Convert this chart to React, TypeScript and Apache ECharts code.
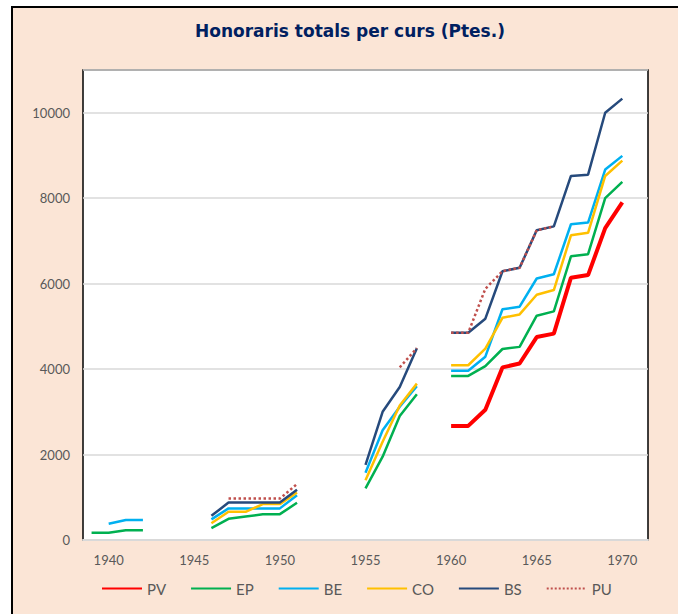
import React, { useEffect, useRef } from "react";
import * as echarts from "echarts";

const years: string[] = [];
for (let y = 1939; y <= 1971; y++) years.push(String(y));

const N = null;
// 1939..1971
const PV = [N, N, N, N, N, N, N, N, N, N, N, N, N, N, N, N, N, N, N, N, N,
  2670, 2670, 3050, 4040, 4130, 4750, 4830, 6140, 6200, 7300, 7900, N];
const EP = [170, 170, 230, 230, N, N, N, 280, 495, 550, 600, 605, 870, N, N, N,
  1210, 1950, 2900, 3410, N,
  3840, 3840, 4070, 4470, 4520, 5250, 5350, 6640, 6690, 8000, 8380, N];
const BE = [N, 380, 470, 470, N, N, N, 483, 740, 740, 740, 740, 1050, N, N, N,
  1575, 2570, 3120, 3600, N,
  3960, 3960, 4290, 5400, 5460, 6120, 6220, 7390, 7430, 8670, 8990, N];
const CO = [N, N, N, N, N, N, N, 390, 660, 660, 840, 840, 1110, N, N, N,
  1400, 2300, 3150, 3660, N,
  4090, 4090, 4480, 5200, 5280, 5740, 5850, 7130, 7190, 8520, 8880, N];
const BS = [N, N, N, N, N, N, N, 565, 875, 875, 875, 875, 1175, N, N, N,
  1760, 3000, 3580, 4490, N,
  4850, 4850, 5180, 6290, 6370, 7250, 7340, 8520, 8550, 10000, 10330, N];
const PU = [N, N, N, N, N, N, N, N, 970, 970, 970, 970, 1310, N, N, N,
  N, N, 4040, 4490, N,
  4850, 4850, 5880, 6290, 6370, 7250, 7340, N, N, N, N, N];

const seriesNames = ["PV", "EP", "BE", "CO", "BS", "PU"];
const seriesData = [PV, EP, BE, CO, BS, PU];
const colors = ["#FF0000", "#00B050", "#00B0F0", "#FFC000", "#264A7C", "#C0504D"];
const widths = [4, 2.5, 2.5, 2.5, 2.5, 2.5];

export default function App() {
  const ref = useRef<HTMLDivElement>(null);
  useEffect(() => {
    if (!ref.current) return;
    const chart = echarts.init(ref.current, undefined, { renderer: "svg" });
    chart.setOption({
      animation: false,
      backgroundColor: "#ffffff",
      graphic: [
        {
          type: "rect",
          z: -100,
          silent: true,
          shape: { x: 12, y: 7, width: 720, height: 660 },
          style: { fill: "#FBE5D6", stroke: "#000000", lineWidth: 2 },
        },
      ],
      title: {
        text: "Honoraris totals per curs (Ptes.)",
        left: 350,
        top: 22,
        padding: 0,
        textAlign: "center",
        textStyle: {
          fontFamily: "DejaVu Sans",
          fontWeight: "bold",
          fontSize: 17,
          color: "#002060",
        },
      },
      grid: {
        left: 83,
        right: 30,
        top: 70,
        bottom: 74,
        show: true,
        backgroundColor: "#ffffff",
        borderColor: "#000000",
        borderWidth: 1.5,
      },
      xAxis: {
        type: "category",
        data: years,
        boundaryGap: true,
        axisTick: { show: false },
        axisLine: { lineStyle: { color: "#D9D9D9", width: 2 } },
        axisLabel: {
          interval: (i: number, v: string) => Number(v) % 5 === 0,
          color: "#595959",
          fontSize: 13,
          fontFamily: "Lato",
          margin: 13,
        },
        splitLine: { show: false },
      },
      yAxis: {
        type: "value",
        min: 0,
        max: 11000,
        interval: 2000,
        axisLine: { show: false },
        axisTick: { show: false },
        axisLabel: {
          showMaxLabel: false,
          formatter: (v: number) => String(v),
          color: "#595959",
          fontSize: 13,
          fontFamily: "Lato",
          margin: 13,
        },
        splitLine: { lineStyle: { color: "#D9D9D9", width: 1.5 } },
      },
      legend: {
        left: 96,
        top: 576,
        itemWidth: 40,
        itemHeight: 14,
        itemGap: 24,
        itemStyle: { opacity: 0 },
        textStyle: { fontSize: 15, color: "#595959", fontFamily: "Lato", width: 22 },
        data: seriesNames,
      },
      series: seriesNames.map((name, i) => ({
        name,
        type: "line",
        data: seriesData[i],
        symbol: "none",
        connectNulls: false,
        color: colors[i],
        lineStyle: {
          color: colors[i],
          width: widths[i],
          type: name === "PU" ? "dotted" : "solid",
        },
      })),
    });
    return () => chart.dispose();
  }, []);
  return (
    <div
      ref={ref}
      style={{ position: "fixed", left: 0, top: 0, width: 678, height: 614 }}
    />
  );
}
